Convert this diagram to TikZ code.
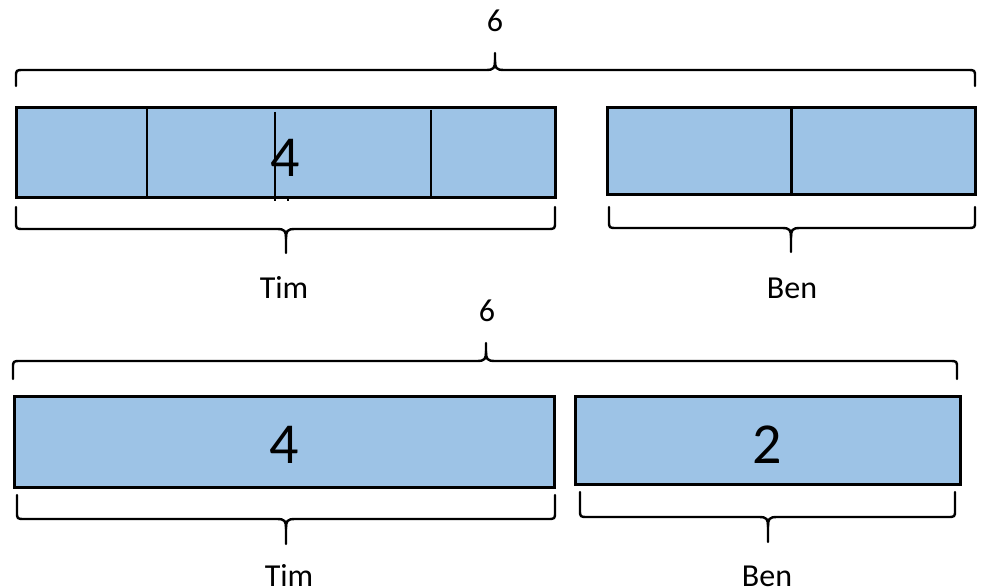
\documentclass[tikz,border=0pt]{standalone}
\usepackage{fontspec}
\setmainfont{Carlito}
\definecolor{barfill}{HTML}{9DC3E6}
\newcommand\mybrace[7]{% x1 x2 xm yend yh ytip dir
  \draw[brace] (#1,#4) -- ({#1},{#5-7*(#7)}) .. controls (#1,#5) .. ({#1+8},{#5}) -- ({#3-9},{#5}) .. controls ({#3-1},{#5}) and ({#3},{#5+2*(#7)}) .. ({#3},{#5+10*(#7)}) -- (#3,#6);
  \draw[brace] (#2,#4) -- ({#2},{#5-7*(#7)}) .. controls (#2,#5) .. ({#2-8},{#5}) -- ({#3+9},{#5}) .. controls ({#3+1},{#5}) and ({#3},{#5+2*(#7)}) .. ({#3},{#5+10*(#7)});}
\begin{document}
\begin{tikzpicture}[x=1pt,y=-1pt,
  bar/.style={draw=black, fill=barfill, line width=3pt},
  brace/.style={draw=black, line width=2.4pt, line join=round, line cap=round},
  thin/.style={draw=black, line width=1.1pt},
  lbl/.style={font=\fontsize{32}{36}\selectfont, anchor=base, inner sep=0pt},
  big/.style={font=\fontsize{58}{64}\selectfont, anchor=base, inner sep=0pt}]
\useasboundingbox (0,0) rectangle (981,588);

% ---------- top diagram ----------
\node[lbl] (six1) at (495,32) {6};
\mybrace{16}{975}{495}{86}{70}{53}{-1}

\path[bar] (16,108) rectangle (555,197);
\draw[thin] (147,108) -- (147,197);
\draw[thin] (275,112) -- (275,201);
\draw[thin] (431,110) -- (431,197);
\draw[thin] (288,197) -- (288,201);
\node[big] (four1) at (285,176) {4};

\path[bar] (607,108) rectangle (975,194);
\draw[line width=3pt] (791,108) -- (791,194);

\mybrace{16}{555}{286}{207}{229}{253}{1}
\node[lbl] (tim1) at (284,298) {Tim};
\mybrace{609}{975}{791}{207}{228}{252}{1}
\node[lbl] (ben1) at (792,298) {Ben};

% ---------- bottom diagram ----------
\node[lbl] (six2) at (487,321) {6};
\mybrace{13}{957}{486}{379}{361}{343}{-1}

\path[bar] (14,396) rectangle (554,487);
\node[big] (four2) at (284,463) {4};
\path[bar] (575,396) rectangle (960,484);
\node[big] (two2) at (767,463) {2};

\mybrace{17}{555}{286}{495}{519}{544}{1}
\node[lbl] (tim2) at (289,586) {Tim};
\mybrace{580}{955}{768}{492}{517}{542}{1}
\node[lbl] (ben2) at (767,586) {Ben};
\end{tikzpicture}
\end{document}
